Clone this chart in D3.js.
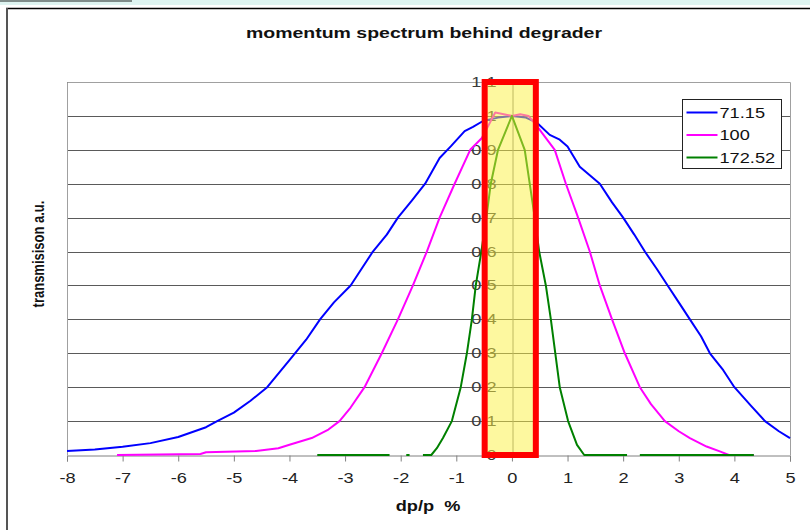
<!DOCTYPE html>
<html>
<head>
<meta charset="utf-8">
<script src="https://cdn.jsdelivr.net/npm/d3@7"></script>
<style>
  html, body { margin: 0; padding: 0; background: #fff; }
  svg { display: block; }
  text { font-family: Arial, "Liberation Sans", sans-serif; }
</style>
</head>
<body>
<svg id="chart" width="810" height="530"></svg>
<script>
// ---- data ----
const title = "momentum spectrum behind degrader";
const xTitle = "dp/p  %";
const yTitle = "transmisison a.u.";
const xTicks = [-8, -7, -6, -5, -4, -3, -2, -1, 0, 1, 2, 3, 4, 5];
const yTicks = [0, 0.1, 0.2, 0.3, 0.4, 0.5, 0.6, 0.7, 0.8, 0.9, 1, 1.1];
const seriesNames = ["71.15", "100", "172.52"];
const seriesColors = ["#0000ff", "#ff00ff", "#008000"];

const blueX = [-8, -7.5, -7, -6.5, -6, -5.5, -5.3, -5, -4.7, -4.4, -4.0, -3.7, -3.45, -3.2, -2.9, -2.7, -2.5, -2.25, -2.05, -1.8, -1.56, -1.3, -1.1, -0.85, -0.7, -0.52, -0.25, 0, 0.25, 0.45, 0.68, 0.86, 1.0, 1.22, 1.58, 1.8, 2.0, 2.2, 2.39, 2.6, 2.8, 3.0, 3.2, 3.4, 3.56, 3.8, 4.0, 4.3, 4.55, 4.8, 5];
const blueY = [0.012, 0.016, 0.024, 0.035, 0.053, 0.082, 0.1, 0.125, 0.16, 0.2, 0.28, 0.34, 0.4, 0.45, 0.5, 0.55, 0.6, 0.65, 0.7, 0.75, 0.8, 0.876, 0.91, 0.955, 0.968, 0.985, 0.995, 1.0, 0.995, 0.98, 0.944, 0.93, 0.91, 0.85, 0.8, 0.745, 0.7, 0.65, 0.6, 0.55, 0.5, 0.45, 0.4, 0.35, 0.3, 0.25, 0.2, 0.145, 0.1, 0.07, 0.05];

const magentaX = [-7.1, -5.6, -5.5, -4.6, -4.2, -4.0, -3.6, -3.3, -3.1, -2.9, -2.65, -2.34, -2.05, -1.78, -1.53, -1.3, -1.03, -0.75, -0.54, -0.3, 0, 0.15, 0.3, 0.45, 0.77, 0.97, 1.19, 1.4, 1.58, 1.8, 2.03, 2.3, 2.5, 2.75, 3.0, 3.2, 3.5, 3.75, 3.9, 4.35];
const magentaY = [0, 0.003, 0.008, 0.012, 0.02, 0.03, 0.05, 0.075, 0.1, 0.14, 0.2, 0.3, 0.4, 0.5, 0.6, 0.7, 0.8, 0.9, 0.935, 1.01, 1.0, 1.005, 1.0, 0.97, 0.9, 0.8, 0.7, 0.6, 0.5, 0.4, 0.3, 0.2, 0.15, 0.1, 0.07, 0.05, 0.025, 0.01, 0, 0];

// null marks a gap in the line
const greenX = [-3.5, -2.2, null, -1.9, -1.84, null, -1.6, -1.45, -1.35, -1.24, -1.08, -0.92, -0.81, -0.72, -0.65, -0.55, -0.46, -0.38, -0.25, 0, 0.23, 0.32, 0.41, 0.49, 0.61, 0.70, 0.78, 0.86, 1.01, 1.17, 1.3, 2.07, null, 2.3, 4.35];
const greenY = [0, 0, null, 0, 0, null, 0, 0, 0.02, 0.05, 0.1, 0.2, 0.3, 0.4, 0.5, 0.6, 0.7, 0.8, 0.9, 1.0, 0.9, 0.8, 0.7, 0.6, 0.5, 0.4, 0.3, 0.2, 0.1, 0.03, 0, 0, null, 0, 0];

const windowRange = [-0.49, 0.43];   // highlighted dp/p window
const windowTop = 1.1;

// ---- drawing ----
const SX = 1.3; // the reference picture is stretched horizontally
const FONT = "Arial, 'Liberation Sans', sans-serif";
const svg = d3.select("#chart");
const W = 810, H = 530;
const plot = { left: 67, right: 790, top: 82, bottom: 455 };

const x = d3.scaleLinear().domain([-8, 5]).range([plot.left, plot.right]);
const y = d3.scaleLinear().domain([0, 1.1]).range([plot.bottom, plot.top]);

// page frame
svg.append("rect").attr("x", 0).attr("y", 0).attr("width", W).attr("height", H).attr("fill", "#ffffff");
svg.append("rect").attr("x", 0).attr("y", 0).attr("width", W).attr("height", 5).attr("fill", "#def4f1");
svg.append("rect").attr("x", 0).attr("y", 0).attr("width", 132).attr("height", 2).attr("fill", "#7f8c8a");
svg.append("line").attr("x1", 6).attr("x2", W).attr("y1", 8.5).attr("y2", 8.5).attr("stroke", "#000").attr("stroke-width", 1.5);
svg.append("line").attr("x1", 7).attr("x2", 7).attr("y1", 8).attr("y2", H).attr("stroke", "#555").attr("stroke-width", 2);

// gridlines
svg.append("g").selectAll("line").data(yTicks.filter(d => d > 0)).join("line")
  .attr("x1", plot.left).attr("x2", plot.right)
  .attr("y1", d => Math.round(y(d)) + 0.5).attr("y2", d => Math.round(y(d)) + 0.5)
  .attr("stroke", "#5a5a5a").attr("stroke-width", 1);

// plot area border (left, top, right)
svg.append("path")
  .attr("d", `M${plot.left + 0.5},${plot.bottom}V${plot.top + 0.5}H${plot.right + 0.5}V${plot.bottom}`)
  .attr("fill", "none").attr("stroke", "#a0a0a0").attr("stroke-width", 1);

// x axis
const xAxis = d3.axisBottom(x).tickValues(xTicks).tickSize(6).tickPadding(12).tickFormat(d3.format("d"));
const gx = svg.append("g").attr("transform", `translate(0,${plot.bottom + 0.5})`).call(xAxis);
gx.select(".domain").attr("stroke", "#808080");
gx.selectAll(".tick line").attr("stroke", "#808080");
gx.selectAll(".tick text").attr("font-size", 14).attr("fill", "#222")
  .attr("font-family", FONT)
  .attr("transform", `scale(${SX},1)`)
  .text(d => d < 0 ? "-" + Math.abs(d) : d);

// y axis at x = 0
const yPad = 16;
const yAxis = d3.axisLeft(y).tickValues(yTicks).tickSize(0).tickPadding(yPad).tickFormat(d => d3.format("~g")(d));
const gy = svg.append("g").attr("transform", `translate(${Math.round(x(0)) + 0.5},0)`).call(yAxis);
gy.select(".domain").attr("stroke", "#808080");
gy.selectAll(".tick text").attr("font-size", 14).attr("fill", "#3a3a3a")
  .attr("font-family", FONT)
  .attr("x", -yPad / SX)
  .attr("transform", `scale(${SX},1)`);

// series
const line = d3.line().defined(d => d[0] !== null && d[1] !== null).x(d => x(d[0])).y(d => y(d[1]));
const series = [
  d3.zip(blueX, blueY),
  d3.zip(magentaX, magentaY),
  d3.zip(greenX, greenY)
];
svg.append("g").selectAll("path").data(series).join("path")
  .attr("d", line)
  .attr("fill", "none")
  .attr("stroke", (d, i) => seriesColors[i])
  .attr("stroke-width", 2)
  .attr("stroke-linejoin", "round");

// highlighted window
svg.append("rect")
  .attr("x", x(windowRange[0])).attr("y", y(windowTop))
  .attr("width", x(windowRange[1]) - x(windowRange[0]))
  .attr("height", y(0) - y(windowTop))
  .attr("fill", "#fbf240").attr("fill-opacity", 0.5)
  .attr("stroke", "#ff0000").attr("stroke-width", 6);

// legend
const lg = svg.append("g").attr("transform", "translate(682.5,99.5)");
lg.append("rect").attr("width", 99).attr("height", 69).attr("fill", "#fff").attr("stroke", "#222").attr("stroke-width", 1);
const items = lg.selectAll("g.item").data(seriesNames).join("g").attr("class", "item")
  .attr("transform", (d, i) => `translate(0,${13 + i * 22.5})`);
items.append("line").attr("x1", 4).attr("x2", 35).attr("y1", 0).attr("y2", 0)
  .attr("stroke", (d, i) => seriesColors[i]).attr("stroke-width", 2);
items.append("text").attr("transform", `translate(37,0) scale(${SX},1)`).attr("dy", "0.36em")
  .attr("font-size", 14).attr("fill", "#111").text(d => d);

// titles
svg.append("text").attr("transform", `translate(424,38) scale(${SX},1)`).attr("text-anchor", "middle")
  .attr("font-size", 15).attr("font-weight", "bold").attr("fill", "#111").text(title);
svg.append("text").attr("transform", `translate(428,511) scale(${SX},1)`).attr("text-anchor", "middle")
  .attr("font-size", 14).attr("font-weight", "bold").attr("fill", "#111")
  .attr("xml:space", "preserve").style("white-space", "pre").text(xTitle);
svg.append("text").attr("transform", `translate(44,254) scale(${SX},1) rotate(-90)`).attr("text-anchor", "middle")
  .attr("font-size", 13).attr("font-weight", "bold").attr("fill", "#111").text(yTitle);
</script>
</body>
</html>
